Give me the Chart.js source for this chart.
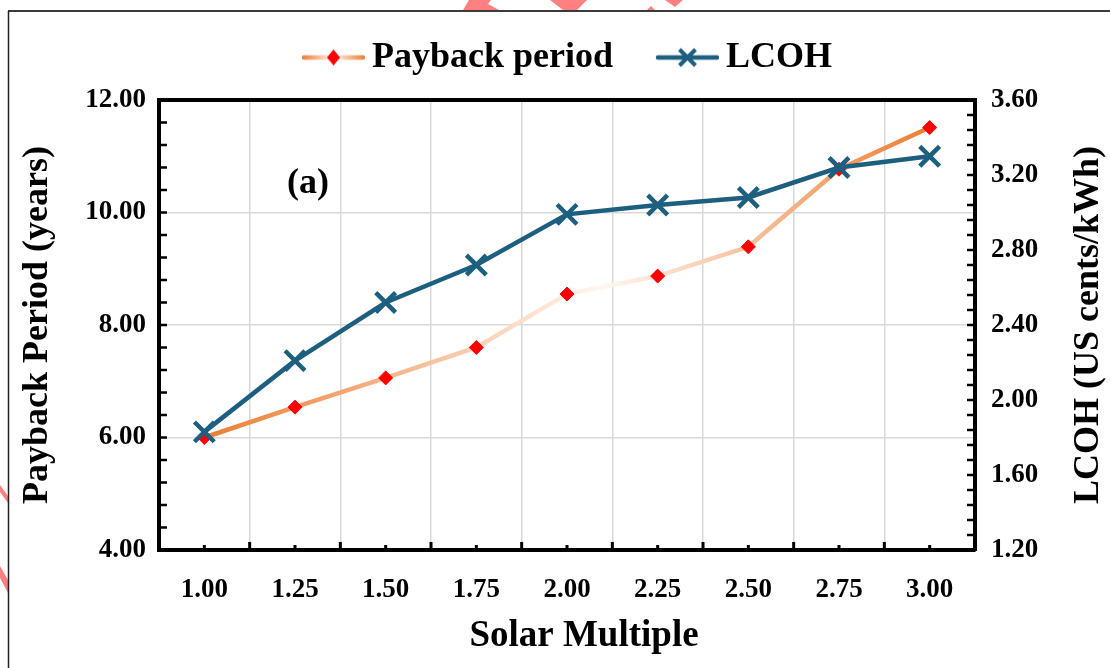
<!DOCTYPE html>
<html>
<head>
<meta charset="utf-8">
<script src="https://cdn.jsdelivr.net/npm/chart.js@4.4.1/dist/chart.umd.min.js"></script>
<style>
  html, body { margin: 0; padding: 0; background: #ffffff; }
  #wrap { width: 1110px; height: 668px; }
  canvas { display: block; }
</style>
</head>
<body>
<div id="wrap"><canvas id="chart" width="1110" height="668" style="width:1110px;height:668px"></canvas></div>
<script>
// Solar multiple cases on the x axis
const solarMultiple = ['1.00', '1.25', '1.50', '1.75', '2.00', '2.25', '2.50', '2.75', '3.00'];
// Payback period, years (left axis)
const paybackYears = [6.00, 6.54, 7.06, 7.60, 8.55, 8.87, 9.39, 10.77, 11.51];
// Levelised cost of heat, US cents/kWh (right axis)
const lcohCents = [1.83, 2.21, 2.52, 2.72, 2.99, 3.04, 3.08, 3.24, 3.30];
// Axis ranges: [min, max, major step]
const paybackAxis = [4, 12, 2];
const lcohAxis = [1.2, 3.6, 0.4];
// Series names and axis titles
const seriesNames = ['Payback period', 'LCOH'];
const axisTitles = ['Solar Multiple', 'Payback Period (years)', 'LCOH (US cents/kWh)'];

const SERIF = '"Liberation Serif", "Times New Roman", serif';
const ORANGE = '#ED7D31';
const PALE = '#FFF7F2';
const RED = '#FF0000';
const TEAL = '#1D5F7F';
const GRID = '#D9D9D9';
const TICK_FONT = { size: 27, weight: 'bold' };

Chart.defaults.font.family = SERIF;
Chart.defaults.font.weight = 'bold';
Chart.defaults.color = '#000000';

// Orange line that fades to near white in the middle of the run
function paybackStroke(chart) {
  const xs = chart.scales && chart.scales.x;
  if (!xs || !chart.chartArea) return ORANGE;
  const x0 = xs.getPixelForValue(0);
  const x1 = xs.getPixelForValue(solarMultiple.length - 1);
  const g = chart.ctx.createLinearGradient(x0, 0, x1, 0);
  g.addColorStop(0, ORANGE);
  g.addColorStop(0.55, PALE);
  g.addColorStop(1, ORANGE);
  return g;
}

// Legend samples: a short line with the series marker on it
function legendSample(kind) {
  const c = document.createElement('canvas');
  c.width = 90; c.height = 26;
  const g = c.getContext('2d');
  const l = 27, r = 90, cy = 13, cx = (l + r) / 2;
  g.lineWidth = 4.5;
  g.lineCap = 'round';
  if (kind === 'payback') {
    const gr = g.createLinearGradient(l, 0, r, 0);
    gr.addColorStop(0, ORANGE); gr.addColorStop(0.5, PALE); gr.addColorStop(1, ORANGE);
    g.strokeStyle = gr;
  } else {
    g.strokeStyle = TEAL;
  }
  g.beginPath(); g.moveTo(l + 2, cy); g.lineTo(r - 2, cy); g.stroke();
  if (kind === 'payback') {
    g.fillStyle = RED;
    g.beginPath();
    g.moveTo(cx, cy - 8); g.lineTo(cx + 6.5, cy); g.lineTo(cx, cy + 8); g.lineTo(cx - 6.5, cy);
    g.closePath(); g.fill();
  } else {
    g.strokeStyle = TEAL; g.lineWidth = 4; g.lineCap = 'butt';
    const d = 8;
    g.beginPath();
    g.moveTo(cx - d, cy - d); g.lineTo(cx + d, cy + d);
    g.moveTo(cx + d, cy - d); g.lineTo(cx - d, cy + d);
    g.stroke();
  }
  return c;
}
const legendImages = [legendSample('payback'), legendSample('lcoh')];

// Page frame and stray marks around the figure
const pageFrame = {
  id: 'pageFrame',
  beforeDraw(chart) {
    const ctx = chart.ctx;
    ctx.save();
    ctx.fillStyle = '#ffffff';
    ctx.fillRect(0, 0, chart.width, chart.height);
    ctx.fillStyle = '#FF8080';
    const shapes = [
      [[469, 0], [491, 0], [488, 4], [499, 10], [463, 10]],
      [[550, 0], [587, 0], [577, 10], [563, 10]],
      [[647, 10], [651, 6], [655, 10]],
      [[665, 0], [683, 0], [675, 7]],
      [[0, 485], [8, 496], [8, 503], [0, 492]],
      [[0, 566], [8, 580], [8, 593], [0, 578]]
    ];
    shapes.forEach(s => {
      ctx.beginPath();
      ctx.moveTo(s[0][0], s[0][1]);
      for (let i = 1; i < s.length; i++) ctx.lineTo(s[i][0], s[i][1]);
      ctx.closePath(); ctx.fill();
    });
    ctx.strokeStyle = '#3a3a3a';
    ctx.lineWidth = 2;
    ctx.beginPath(); ctx.moveTo(8, 11); ctx.lineTo(chart.width, 11); ctx.stroke();
    ctx.strokeStyle = '#222222';
    ctx.lineWidth = 1.5;
    ctx.beginPath(); ctx.moveTo(8.5, 11); ctx.lineTo(8.5, chart.height); ctx.stroke();
    ctx.restore();
  }
};

// Inward tick marks, top frame line, axis titles and panel tag
const plotDecor = {
  id: 'plotDecor',
  afterDraw(chart) {
    const {ctx, chartArea: a, scales} = chart;
    const xs = scales.x, yl = scales.y, yr = scales.y1;
    ctx.save();
    ctx.strokeStyle = '#000000';
    ctx.lineWidth = 4;
    ctx.beginPath(); ctx.moveTo(a.left - 2, a.top); ctx.lineTo(a.right + 2, a.top); ctx.stroke();

    ctx.lineWidth = 2.5;
    ctx.beginPath();
    const stepL = paybackAxis[2] / 5;
    const nL = Math.round((paybackAxis[1] - paybackAxis[0]) / stepL);
    for (let i = 1; i < nL; i++) {
      const py = yl.getPixelForValue(paybackAxis[0] + i * stepL);
      ctx.moveTo(a.left, py); ctx.lineTo(a.left + 8, py);
    }
    const stepR = lcohAxis[2] / 5;
    const nR = Math.round((lcohAxis[1] - lcohAxis[0]) / stepR);
    for (let i = 1; i < nR; i++) {
      const py = yr.getPixelForValue(lcohAxis[0] + i * stepR);
      ctx.moveTo(a.right, py); ctx.lineTo(a.right - 8, py);
    }
    ctx.stroke();

    ctx.lineWidth = 3;
    ctx.beginPath();
    const span = xs.getPixelForValue(1) - xs.getPixelForValue(0);
    for (let i = 0; i < solarMultiple.length; i++) {
      const px = xs.getPixelForValue(i);
      ctx.moveTo(px, a.bottom); ctx.lineTo(px, a.bottom - 5);
      if (i > 0) {
        const bx = px - span / 2;
        ctx.moveTo(bx, a.bottom); ctx.lineTo(bx, a.bottom - 8);
      }
    }
    ctx.stroke();

    ctx.fillStyle = '#000000';
    ctx.font = 'bold 36px ' + SERIF;
    ctx.textAlign = 'center';
    ctx.textBaseline = 'middle';
    ctx.fillText('(a)', a.left + 149, a.top + 84);

    ctx.font = 'bold 37px ' + SERIF;
    ctx.fillText(axisTitles[0], (a.left + a.right) / 2 + 17, chart.height - 32);

    ctx.font = 'bold 36px ' + SERIF;
    ctx.translate(chart.width - 21, (a.top + a.bottom) / 2);
    ctx.rotate(-Math.PI / 2);
    ctx.fillText(axisTitles[2], 0, 0);
    ctx.restore();
  }
};

new Chart(document.getElementById('chart'), {
  type: 'line',
  data: {
    labels: solarMultiple,
    datasets: [
      {
        label: seriesNames[0],
        data: paybackYears,
        yAxisID: 'y',
        order: 1,
        borderColor: (c) => paybackStroke(c.chart),
        borderWidth: 4.5,
        pointStyle: 'rectRot',
        pointRadius: 7,
        pointHoverRadius: 7,
        pointBackgroundColor: RED,
        pointBorderColor: RED,
        pointBorderWidth: 1,
        tension: 0,
        fill: false
      },
      {
        label: seriesNames[1],
        data: lcohCents,
        yAxisID: 'y1',
        order: 0,
        borderColor: TEAL,
        borderWidth: 4.5,
        pointStyle: 'crossRot',
        pointRadius: 14,
        pointHoverRadius: 14,
        pointBorderColor: TEAL,
        pointBackgroundColor: TEAL,
        pointBorderWidth: 4.5,
        tension: 0,
        fill: false
      }
    ]
  },
  options: {
    responsive: false,
    animation: false,
    devicePixelRatio: 1,
    layout: { padding: { top: 12.5, left: 8, right: 0, bottom: 0 } },
    plugins: {
      tooltip: { enabled: false },
      legend: {
        display: true,
        position: 'top',
        align: 'center',
        labels: {
          usePointStyle: true,
          pointStyleWidth: 68,
          padding: 27,
          color: '#000000',
          font: { family: SERIF, size: 36, weight: 'bold' },
          generateLabels: (chart) => chart.data.datasets.map((ds, i) => ({
            text: ds.label,
            datasetIndex: i,
            hidden: false,
            pointStyle: legendImages[i],
            fillStyle: 'rgba(0,0,0,0)',
            strokeStyle: 'rgba(0,0,0,0)',
            lineWidth: 0,
            fontColor: '#000000'
          }))
        }
      },
      // empty spacer between the legend row and the plot frame
      subtitle: {
        display: true,
        text: '',
        position: 'top',
        weight: 500,
        font: { size: 1 },
        padding: { top: 13.3, bottom: 0 }
      }
    },
    scales: {
      x: {
        type: 'category',
        offset: true,
        grid: { offset: true, color: GRID, lineWidth: 1.5, drawTicks: false },
        border: { display: true, color: '#000000', width: 4 },
        ticks: { color: '#000000', font: TICK_FONT, padding: 24, maxRotation: 0, autoSkip: false },
        title: { display: false },
        afterFit: (s) => { s.height = 118; }
      },
      y: {
        position: 'left',
        min: paybackAxis[0],
        max: paybackAxis[1],
        grid: { color: GRID, lineWidth: 1.5, drawTicks: false },
        border: { display: true, color: '#000000', width: 4 },
        ticks: { stepSize: paybackAxis[2], padding: 13, color: '#000000', font: TICK_FONT, callback: (v) => Number(v).toFixed(2) },
        title: { display: true, text: axisTitles[1], color: '#000000', font: { size: 36, weight: 'bold' }, padding: { top: 8, bottom: 0 } },
        afterFit: (s) => { s.width = 151; }
      },
      y1: {
        position: 'right',
        min: lcohAxis[0],
        max: lcohAxis[1],
        grid: { drawOnChartArea: false, drawTicks: false },
        border: { display: true, color: '#000000', width: 4 },
        ticks: { stepSize: lcohAxis[2], padding: 16, color: '#000000', font: TICK_FONT, callback: (v) => Number(v).toFixed(2) },
        title: { display: false },
        afterFit: (s) => { s.width = 135; }
      }
    }
  },
  plugins: [pageFrame, plotDecor]
});
</script>
</body>
</html>
